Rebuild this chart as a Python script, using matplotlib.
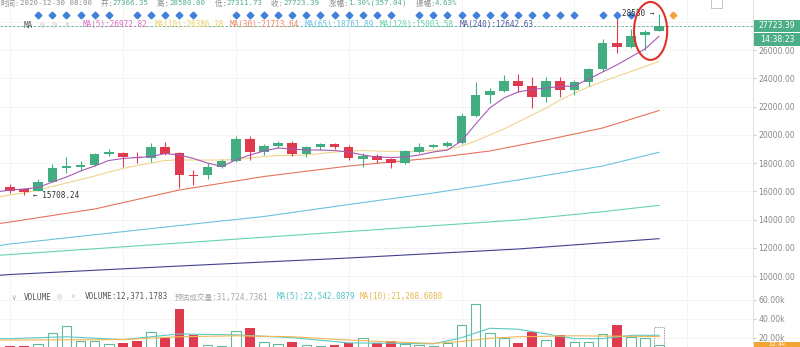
import matplotlib
matplotlib.use("Agg")
import matplotlib.pyplot as plt
import matplotlib.transforms as mtransforms
from matplotlib.patches import Ellipse, Rectangle

W, H = 800, 347

# daily candles, index 0..46 (last one = 2020-12-30)
opens = [16320, 16140, 16040, 16680, 17670, 17740, 17840, 18660, 18690, 18420,
         18380, 19150, 18690, 17170, 17150, 17740, 18160, 19680, 18760, 19200,
         19440, 18640, 19150, 19350, 19150, 18280, 18520, 18260, 17980, 18780,
         19110, 19220, 19440, 21330, 22810, 23100, 23800, 23470, 22690, 23800,
         23170, 23730, 24630, 26470, 26230, 27060, 27366.35]
highs = [16500, 16230, 16850, 17930, 18450, 18160, 18730, 18970, 18800, 18760,
         19440, 19490, 18800, 17500, 17980, 18280, 19910, 19910, 19350, 19580,
         19580, 19200, 19440, 19450, 19270, 18690, 18640, 18350, 18920, 19390,
         19345, 19550, 21560, 23760, 23290, 24230, 24300, 24110, 24110, 24110,
         23880, 24730, 26760, 28480, 27470, 27400, 28580.00]
lows = [15900, 15708.24, 15990, 16620, 17270, 17450, 17790, 18500, 17700, 17980,
        18090, 18600, 16210, 16440, 16850, 17620, 18100, 18210, 18570, 19040,
        18500, 18450, 18920, 18970, 18210, 17740, 17980, 17620, 17930, 18710,
        19040, 19110, 19380, 21250, 22270, 23050, 23050, 21870, 22340, 22650,
        22810, 23450, 24500, 25770, 26150, 26000, 27311.73]
closes = [16040, 15950, 16680, 17670, 17770, 17840, 18620, 18760, 18400, 18330,
          19110, 18660, 17150, 17080, 17740, 18160, 19680, 18760, 19200, 19440,
          18640, 19110, 19350, 19110, 18330, 18520, 18210, 17980, 18850, 19110,
          19250, 19440, 21330, 22810, 23100, 23800, 23470, 22690, 23800, 23170,
          23730, 24630, 26470, 26230, 26990, 27300, 27723.39]

# volume in thousands
volume_k = [11.0, 11.0, 13.3, 25.0, 32.7, 16.5, 16.5, 13.3, 14.4, 16.5,
            26.4, 20.0, 50.4, 22.9, 12.3, 11.5, 27.1, 30.6, 15.8, 13.6,
            15.8, 12.0, 11.0, 12.0, 14.1, 20.0, 14.4, 16.5, 13.0, 12.0,
            11.0, 14.0, 33.5, 55.8, 24.7, 19.4, 14.0, 25.7, 17.6, 22.9,
            15.1, 15.1, 23.6, 33.5, 21.1, 19.4, 12.37]
volume_est_k = 31.72

# moving averages, index -1 is the bar just off the left edge
ma5 = [15946, 16088, 16159, 16265, 16654, 17008, 17433, 17787, 18177, 18318, 18389,
       18460, 18672, 18566, 18318, 18000, 17752, 18212, 18566, 18849, 19062,
       18991, 18920, 18920, 18885, 18778, 18566, 18424, 18389, 18424, 18566,
       18778, 18920, 19557, 20761, 21894, 22602, 23026, 23203, 23310, 23416,
       23451, 23947, 24442, 24938, 25504, 26071, 26972.82]
ma10 = [15557, 15734, 15876, 16088, 16336, 16584, 16831, 17079, 17362, 17610, 17823,
        18000, 18177, 18212, 18212, 18212, 18212, 18247, 18354, 18460, 18531,
        18531, 18566, 18672, 18778, 18849, 18885, 18849, 18814, 18814, 18849,
        18885, 18955, 19203, 19557, 19982, 20407, 20902, 21398, 21894, 22460,
        22956, 23380, 23770, 24124, 24478, 24832, 25186]
ma30_x = [-1, 0, 6, 12, 18, 24, 30, 34, 38, 42, 46]
ma30 = [13681, 13822, 14743, 16088, 17044, 17787, 18354, 18849, 19628, 20478, 21713.64]
ma65_x = [-1, 0, 12, 18, 24, 30, 36, 42, 46]
ma65 = [12124, 12265, 13575, 14212, 15061, 15876, 16796, 17787, 18761.89]
ma120_x = [-1, 0, 12, 24, 36, 42, 46]
ma120 = [11450, 11521, 12336, 13150, 13964, 14552, 15003.58]
ma240_x = [-1, 0, 12, 24, 36, 46]
ma240 = [10034, 10105, 10707, 11274, 11911, 12642.63]

vma5_x = [-1, 0, 4, 8, 12, 16, 20, 24, 28, 30, 32, 34, 36, 38, 40, 42, 44, 46]
vma5 = [19, 19, 21, 18, 24, 23, 20, 14.5, 14, 13.5, 20, 30, 29, 24, 19, 19, 22.5, 22.54]
vma10_x = [-1, 0, 8, 12, 16, 20, 24, 28, 30, 32, 34, 36, 40, 44, 46]
vma10 = [17.5, 17.5, 18, 21, 22, 21, 17.5, 15, 14, 16, 19.4, 21, 22, 21.5, 21.27]

# signal markers above the candles
signal_idx = [2, 3, 4, 5, 6, 7, 9, 10, 11, 12, 13] + list(range(16, 28)) \
    + list(range(29, 41)) + [42, 43, 44]
pending_idx = [47]

price_ticks = list(range(10000, 28001, 2000))
vol_ticks = [20, 40, 60]

up_col = "#43ad82"
down_col = "#e03a4f"
grid_col = "#f2f2f2"
MONO = ["DejaVu Sans Mono", "Noto Sans CJK SC"]

fig = plt.figure(figsize=(W / 100, H / 100), dpi=100)
ax = fig.add_axes([0, 59 / H, 753 / W, 288 / H])
axv = fig.add_axes([0, 0, 753 / W, 59 / H], sharex=ax)

n = len(opens)
# moving averages
ax.plot(range(-1, n), ma5, color="#a858b4", lw=0.8, zorder=5)
ax.plot(range(-1, n), ma10, color="#efd58c", lw=0.8, zorder=2)
ax.plot(ma30_x, ma30, color="#e8735c", lw=0.8, zorder=2)
ax.plot(ma65_x, ma65, color="#6cc3e0", lw=0.8, zorder=2)
ax.plot(ma120_x, ma120, color="#66d3b2", lw=0.8, zorder=2)
ax.plot(ma240_x, ma240, color="#41418e", lw=0.8, zorder=2)

# candles
for i in range(n):
    col = up_col if closes[i] >= opens[i] else down_col
    ax.vlines(i, lows[i], highs[i], color=col, lw=0.8, zorder=3)
    lo, hi = sorted((opens[i], closes[i]))
    ax.bar(i, max(hi - lo, 70), bottom=lo, width=0.68, color=col, zorder=4)

# last price line
ax.axhline(closes[-1], color="#4fae86", lw=0.6, ls=(0, (3, 2)), zorder=3)

# signal diamonds
trans = mtransforms.blended_transform_factory(ax.transData, ax.transAxes)
ax.plot(signal_idx, [1 - 15 / 288] * len(signal_idx), "D", color="#3f80d8",
        ms=3.4, transform=trans, zorder=6)
ax.plot(pending_idx, [1 - 15 / 288], "D", color="#f2a43a", ms=3.4,
        transform=trans, zorder=6, clip_on=False)

# high / low markers
ax.text(n - 1 - 0.3, highs[-1], "28580 \u2192", ha="right", va="center",
        fontsize=5.5, family=MONO, color="#333333", zorder=7)
ax.text(1.6, lows[1], "\u2190 15708.24", ha="left", va="center",
        fontsize=5.5, family=MONO, color="#333333", zorder=7)

# red circle around the last bars
ax.add_patch(Ellipse((45.4, 27350), 2.35, 4100, fill=False,
                     edgecolor="#e3302b", lw=1.5, zorder=8))

ax.set_xlim(-10 / 14.11, 743 / 14.11)
ax.set_ylim(26000 - 238 * 70.796, 26000 + 50 * 70.796)
ax.set_yticks(price_ticks)
# the 28000 label sits under the last-price box
ax.set_yticklabels([f"{t:.2f}" if t < 28000 else "" for t in price_ticks])
ax.yaxis.tick_right()
ax.set_xticks(range(0, 56, 8))
ax.grid(True, color=grid_col, lw=0.6, zorder=0)
ax.tick_params(axis="y", length=2, pad=2, labelsize=5.6, colors="#cccccc",
               labelcolor="#888888")
ax.tick_params(axis="x", length=0, labelbottom=False)
for s in ["top", "left"]:
    ax.spines[s].set_visible(False)
ax.spines["right"].set_color("#e3e3e3")
ax.spines["bottom"].set_color("#ececec")

# volume panel
axv.bar(n - 1, volume_est_k, width=0.68, fill=False, edgecolor="#a0a0a0",
        ls=(0, (1.5, 1)), lw=0.7, zorder=3)
for i in range(n):
    if closes[i] >= opens[i]:
        axv.bar(i, volume_k[i], width=0.68, facecolor="white",
                edgecolor="#5dbb98", lw=0.8, zorder=3)
    else:
        axv.bar(i, volume_k[i], width=0.68, color=down_col, zorder=3)
axv.plot(vma5_x, vma5, color="#5cc9c6", lw=0.8, zorder=4)
axv.plot(vma10_x, vma10, color="#f0b754", lw=0.8, zorder=4)
axv.set_ylim(10.13, 72.73)
axv.set_yticks(vol_ticks)
axv.set_yticklabels([f"{t:.2f}k" for t in vol_ticks])
axv.yaxis.tick_right()
axv.grid(True, color=grid_col, lw=0.6, zorder=0)
axv.tick_params(axis="y", length=2, pad=2, labelsize=5.6, colors="#cccccc",
                labelcolor="#888888")
axv.tick_params(axis="x", length=0, labelbottom=False)
for s in ["top", "left", "bottom"]:
    axv.spines[s].set_visible(False)
axv.spines["right"].set_color("#e3e3e3")

renderer = fig.canvas.get_renderer()


def run_text(x0, y, parts, size=5.5):
    xp = x0
    for s, c in parts:
        t = fig.text(xp / W, 1 - y / H, s, color=c, fontsize=size, family=MONO,
                     ha="left", va="center")
        xp = t.get_window_extent(renderer=renderer).x1
    return xp


gray = "#8c8c8c"
val = "#56b08c"
run_text(0, 3, [("时间:", gray), ("2020-12-30 08:00", gray),
                ("  开:", gray), ("27366.35", val),
                ("  高:", gray), ("28580.00", val),
                ("  低:", gray), ("27311.73", val),
                ("  收:", gray), ("27723.39", val),
                ("  涨幅:", gray), ("1.30%(357.04)", val),
                ("  振幅:", gray), ("4.63%", val)], size=5.4)

# MA legend row
run_text(24, 25, [("MA", "#555555")])
run_text(40, 25, [("\u25ce", "#c8c8c8")], size=6)
run_text(52, 25, [("\u25ce", "#c8c8c8")], size=6)
run_text(64, 25, [("\u00d7", "#c8c8c8")], size=6)
ma_labels = ["MA(5):26972.82", "MA(10):26386.78", "MA(30):21713.64",
             "MA(65):18761.89", "MA(120):15003.58", "MA(240):12642.63"]
ma_label_cols = ["#e06ac6", "#efcf66", "#ef8466", "#66c2e0", "#64cfae", "#4f58a6"]
for lx, lab, c in zip([83, 155, 230, 305, 380, 460], ma_labels, ma_label_cols):
    run_text(lx, 25, [(lab, c)])

# volume header row
run_text(11, 297, [("\u2228", "#aaaaaa")])
run_text(24, 297, [("VOLUME", "#555555")])
run_text(57, 297, [("\u25ce", "#c8c8c8")], size=6)
run_text(70, 297, [("\u00d7", "#c8c8c8")], size=6)
run_text(85, 297, [("VOLUME:12,371.1783", "#555555")])
run_text(175, 297, [("预估成交量:31,724.7361", "#a8a8a8")])
run_text(277, 297, [("MA(5):22,542.0879", "#4ec3c6")])
run_text(360, 297, [("MA(10):21,268.6080", "#e6b64c")])


def side_box(y0, y1, text, fc, size=5.6):
    fig.add_artist(Rectangle((754 / W, 1 - y1 / H), 46 / W, (y1 - y0) / H,
                             transform=fig.transFigure, facecolor=fc,
                             edgecolor="none", zorder=5))
    fig.text(777 / W, 1 - (y0 + y1) / 2 / H, text, color="white", fontsize=size,
             ha="center", va="center", zorder=6)


side_box(20, 32, "27723.39", "#4cae86")
side_box(33, 46, "14:38:23", "#4cae86")
side_box(342, 347, "12.4k", "#f3a533", size=4.5)

# small toolbar icon top right
fig.add_artist(Rectangle((711 / W, 1 - 8 / H), 11 / W, 10 / H,
                         transform=fig.transFigure, facecolor="white",
                         edgecolor="#bbbbbb", lw=0.6))

fig.savefig("out.png", dpi=100)
